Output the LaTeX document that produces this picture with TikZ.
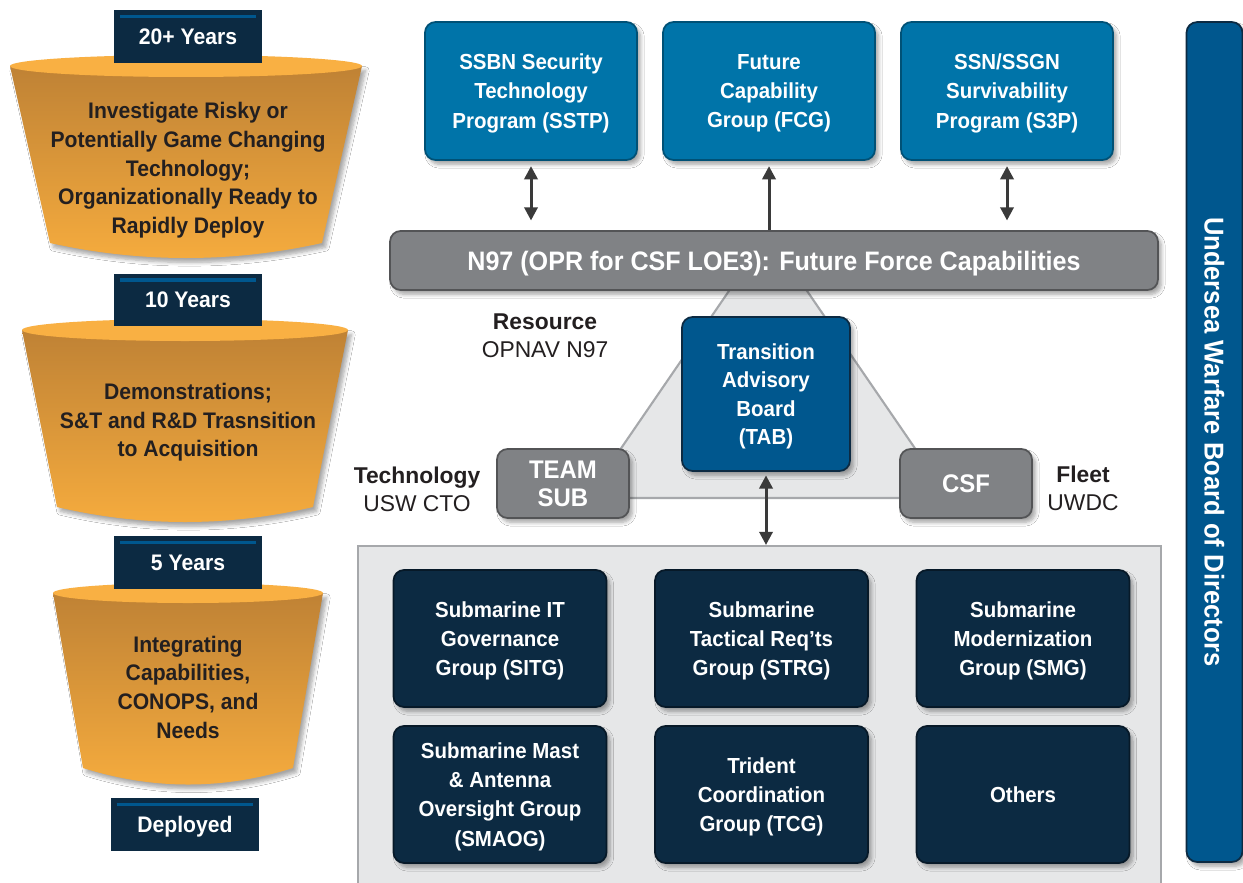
\documentclass[tikz,border=0pt]{standalone}
\usepackage{fontspec}
\setmainfont{Liberation Sans}
\newfontfamily\boxfont[FakeStretch=0.94]{Liberation Sans}
\usetikzlibrary{arrows.meta}
\usetikzlibrary{shadows.blur}

\definecolor{navy}{HTML}{0C2A42}
\definecolor{topblue}{HTML}{0074A9}
\definecolor{tabblue}{HTML}{00578E}
\definecolor{boxgray}{HTML}{808285}
\definecolor{panelgray}{HTML}{E6E7E8}
\definecolor{linegray}{HTML}{A6A8AB}
\definecolor{arrowgray}{HTML}{3A3A3A}
\definecolor{fundark}{HTML}{BF8235}
\definecolor{funlight}{HTML}{F6AC3E}
\definecolor{funrim}{HTML}{F9B043}
\definecolor{inkdark}{HTML}{231F20}

\begin{document}
\begin{tikzpicture}[x=0.02cm, y=-0.02cm,
  shade/.style={blur shadow={shadow xshift=2pt, shadow yshift=-2.5pt, shadow blur steps=6, shadow opacity=35}},
  box/.style={rounded corners=6pt, align=center, text=white, inner sep=0pt, line width=1pt, shade, text depth=0pt,
    font=\boxfont\bfseries\fontsize{12.4}{16.6}\selectfont},
  topbox/.style={box, fill=topblue, draw=topblue!70!black, minimum width=4.24cm, minimum height=2.76cm},
  groupbox/.style={box, fill=navy, draw=navy!60!black, minimum width=4.26cm, minimum height=2.74cm},
  graybox/.style={box, fill=boxgray, draw=boxgray!65!black},
  yearbox/.style={fill=navy, text=white, minimum width=2.96cm, minimum height=1.06cm, inner sep=0pt, text depth=0pt,
    font=\boxfont\bfseries\fontsize{12.8}{15}\selectfont},
  funnel/.style={top color=fundark, bottom color=funlight, shade},
  funtext/.style={align=center, text=inkdark, text depth=0pt, font=\boxfont\bfseries\fontsize{12.8}{16.3}\selectfont},
  side/.style={align=center, text=inkdark, font=\fontsize{13}{15.9}\selectfont},
  dbl/.style={{Triangle[length=7.5pt,width=7.5pt]}-{Triangle[length=7.5pt,width=7.5pt]}, line width=1.7pt, draw=arrowgray},
  sgl/.style={-{Triangle[length=7.5pt,width=7.5pt]}, line width=1.7pt, draw=arrowgray}
]
\useasboundingbox[fill=white] (0,0) rectangle (1243,882);

% funnels on the left
\path[funnel] (10,66) -- (50,243) .. controls (140,263) and (232,263) .. (322,243) -- (362,66) -- cycle;
\fill[funrim] (186,66) ellipse [x radius=176, y radius=11];
\path[funnel] (22,330) -- (57,507) .. controls (142,527) and (228,527) .. (313,507) -- (348,330) -- cycle;
\fill[funrim] (185,330) ellipse [x radius=163, y radius=11];
\path[funnel] (53,593) -- (83,768) .. controls (153,790) and (223,790) .. (293,768) -- (323,593) -- cycle;
\fill[funrim] (188,593) ellipse [x radius=135, y radius=10];

\node[funtext] (F20) at (188,168) {Investigate Risky or\\Potentially Game Changing\\Technology;\\Organizationally Ready to\\Rapidly Deploy};
\node[funtext] (F10) at (188,420) {Demonstrations;\\S\&T and R\&D Trasnsition\\to Acquisition};
\node[funtext] (F5) at (188,687) {Integrating\\Capabilities,\\CONOPS, and\\Needs};

\node[yearbox] (Y20) at (188,36.5) {20+ Years};
\node[yearbox] (Y10) at (188,300) {10 Years};
\node[yearbox] (Y5) at (188,562.5) {5 Years};
\node[yearbox] (Ydep) at (185,824.5) {Deployed};
\foreach \y in {Y20,Y10,Y5,Ydep}
  \draw[tabblue, line width=2pt] ([shift={(6,7)}]\y.north west) -- ([shift={(-6,7)}]\y.north east);

% triangle behind the TAB
\filldraw[fill=panelgray, draw=linegray, line width=1.2pt] (768,234) -- (587,498) -- (949,498) -- cycle;

% top row
\node[topbox] (SSTP) at (531,91) {SSBN Security\\Technology\\Program (SSTP)};
\node[topbox] (FCG) at (769,91) {Future\\Capability\\Group (FCG)};
\node[topbox] (S3P) at (1007,91) {SSN/SSGN\\Survivability\\Program (S3P)};

\node[graybox, minimum width=15.36cm, minimum height=1.18cm, font=\boxfont\bfseries\fontsize{15.2}{16}\selectfont]
  (N97) at (774,260.5) {N97 (OPR for CSF LOE3): Future Force Capabilities};

\draw[dbl, shorten <=3pt, shorten >=5.5pt] (SSTP) -- (SSTP |- N97.north);
\draw[sgl, shorten >=3pt] (FCG |- N97.north) -- (FCG);
\draw[dbl, shorten <=3pt, shorten >=5.5pt] (S3P) -- (S3P |- N97.north);

% triangle corners
\node[box, fill=tabblue, draw=navy, minimum width=3.36cm, minimum height=3.08cm, font=\boxfont\bfseries\fontsize{12.4}{16.2}\selectfont]
  (TAB) at (766,394) {Transition\\Advisory\\Board\\(TAB)};
\node[graybox, minimum width=2.64cm, minimum height=1.38cm, font=\boxfont\bfseries\fontsize{14.5}{16}\selectfont]
  (TS) at (563,483.5) {TEAM\\SUB};
\node[graybox, minimum width=2.64cm, minimum height=1.38cm, font=\boxfont\bfseries\fontsize{14.5}{16}\selectfont]
  (CSF) at (966,483.5) {CSF};

\node[side] (RES) at (545,336) {\textbf{Resource}\\OPNAV N97};
\node[side] (TEC) at (417,489) {\textbf{Technology}\\USW CTO};
\node[side] (FLT) at (1083,488) {\textbf{Fleet}\\UWDC};

% working groups
\node[fill=panelgray, draw=linegray, line width=1.2pt, minimum width=16.06cm, minimum height=6.92cm, inner sep=0pt]
  (panel) at (759.5,719) {};
\draw[dbl, shorten <=2pt] (TAB) -- (TAB |- panel.north);

\node[groupbox] (SITG) at (500,638.5) {Submarine IT\\Governance\\Group (SITG)};
\node[groupbox] (STRG) at (761.5,638.5) {Submarine\\Tactical Req’ts\\Group (STRG)};
\node[groupbox] (SMG) at (1023,638.5) {Submarine\\Modernization\\Group (SMG)};
\node[groupbox] (SMAOG) at (500,794.5) {Submarine Mast\\\& Antenna\\Oversight Group\\(SMAOG)};
\node[groupbox] (TCG) at (761.5,794.5) {Trident\\Coordination\\Group (TCG)};
\node[groupbox] (OTH) at (1023,794.5) {Others};

% board of directors
\node[box, fill=tabblue, draw=navy, rotate=-90, minimum width=16.8cm, minimum height=1.12cm,
  font=\boxfont\bfseries\fontsize{15.5}{17}\selectfont] (UWB) at (1214.5,442) {Undersea Warfare Board of Directors};
\end{tikzpicture}
\end{document}
